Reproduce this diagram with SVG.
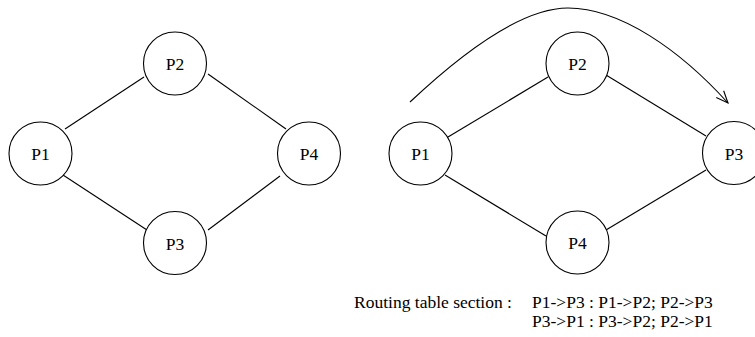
<svg xmlns="http://www.w3.org/2000/svg" width="755" height="337" viewBox="0 0 755 337">
  <style>
    .node circle { fill: #fff; stroke: #000; stroke-width: 1.1; }
    .node text { font-family: "Liberation Serif", "Times New Roman", serif; font-size: 17.5px; text-anchor: middle; fill: #000; }
    .edges line, .edges path { stroke: #000; stroke-width: 1.1; fill: none; }
    .label { font-family: "Liberation Serif", "Times New Roman", serif; font-size: 17.5px; fill: #000; }
  </style>
  <defs>
    <marker id="vhead" viewBox="0 0 14 12" refX="13" refY="6" markerWidth="14" markerHeight="12" markerUnits="userSpaceOnUse" orient="auto">
      <path d="M1,1 L13,6 L1,11" fill="none" stroke="#000" stroke-width="1.1"/>
    </marker>
  </defs>

  <!-- left ring -->
  <g class="edges" id="edges-left">
    <line x1="65" y1="129" x2="144" y2="77"/>
    <line x1="208" y1="74" x2="286" y2="129"/>
    <line x1="63" y1="175" x2="147" y2="230"/>
    <line x1="280" y1="176" x2="208" y2="230"/>
  </g>
  <g class="node" id="l-p1"><circle cx="40.5" cy="153.5" r="31.5"/><text x="40.5" y="160">P1</text></g>
  <g class="node" id="l-p2"><circle cx="175" cy="63.5" r="31.5"/><text x="175" y="70">P2</text></g>
  <g class="node" id="l-p4"><circle cx="309" cy="153.5" r="31.5"/><text x="309" y="160">P4</text></g>
  <g class="node" id="l-p3"><circle cx="175" cy="243" r="31.5"/><text x="175" y="249.5">P3</text></g>

  <!-- right ring with route arrow -->
  <g class="edges" id="edges-right">
    <line x1="448" y1="137" x2="548" y2="77"/>
    <line x1="606" y1="75" x2="706" y2="136"/>
    <line x1="445" y1="175" x2="546" y2="236"/>
    <line x1="606" y1="230" x2="706" y2="170"/>
    <path d="M410,102 C460,55 520,8 568,8 C620,8 680,50 728,103" marker-end="url(#vhead)"/>
  </g>
  <g class="node" id="r-p1"><circle cx="420.5" cy="153.5" r="31.5"/><text x="420.5" y="160">P1</text></g>
  <g class="node" id="r-p2"><circle cx="577.5" cy="63.5" r="31.5"/><text x="577.5" y="70">P2</text></g>
  <g class="node" id="r-p3"><circle cx="734" cy="153" r="31.5"/><text x="734" y="159.5">P3</text></g>
  <g class="node" id="r-p4"><circle cx="577.5" cy="242.5" r="31.5"/><text x="577.5" y="249">P4</text></g>

  <!-- routing table -->
  <g id="routing-table">
    <text class="label" x="354" y="308">Routing table section :</text>
    <text class="label" x="532" y="308">P1-&gt;P3 : P1-&gt;P2; P2-&gt;P3</text>
    <text class="label" x="532" y="327">P3-&gt;P1 : P3-&gt;P2; P2-&gt;P1</text>
  </g>
</svg>
